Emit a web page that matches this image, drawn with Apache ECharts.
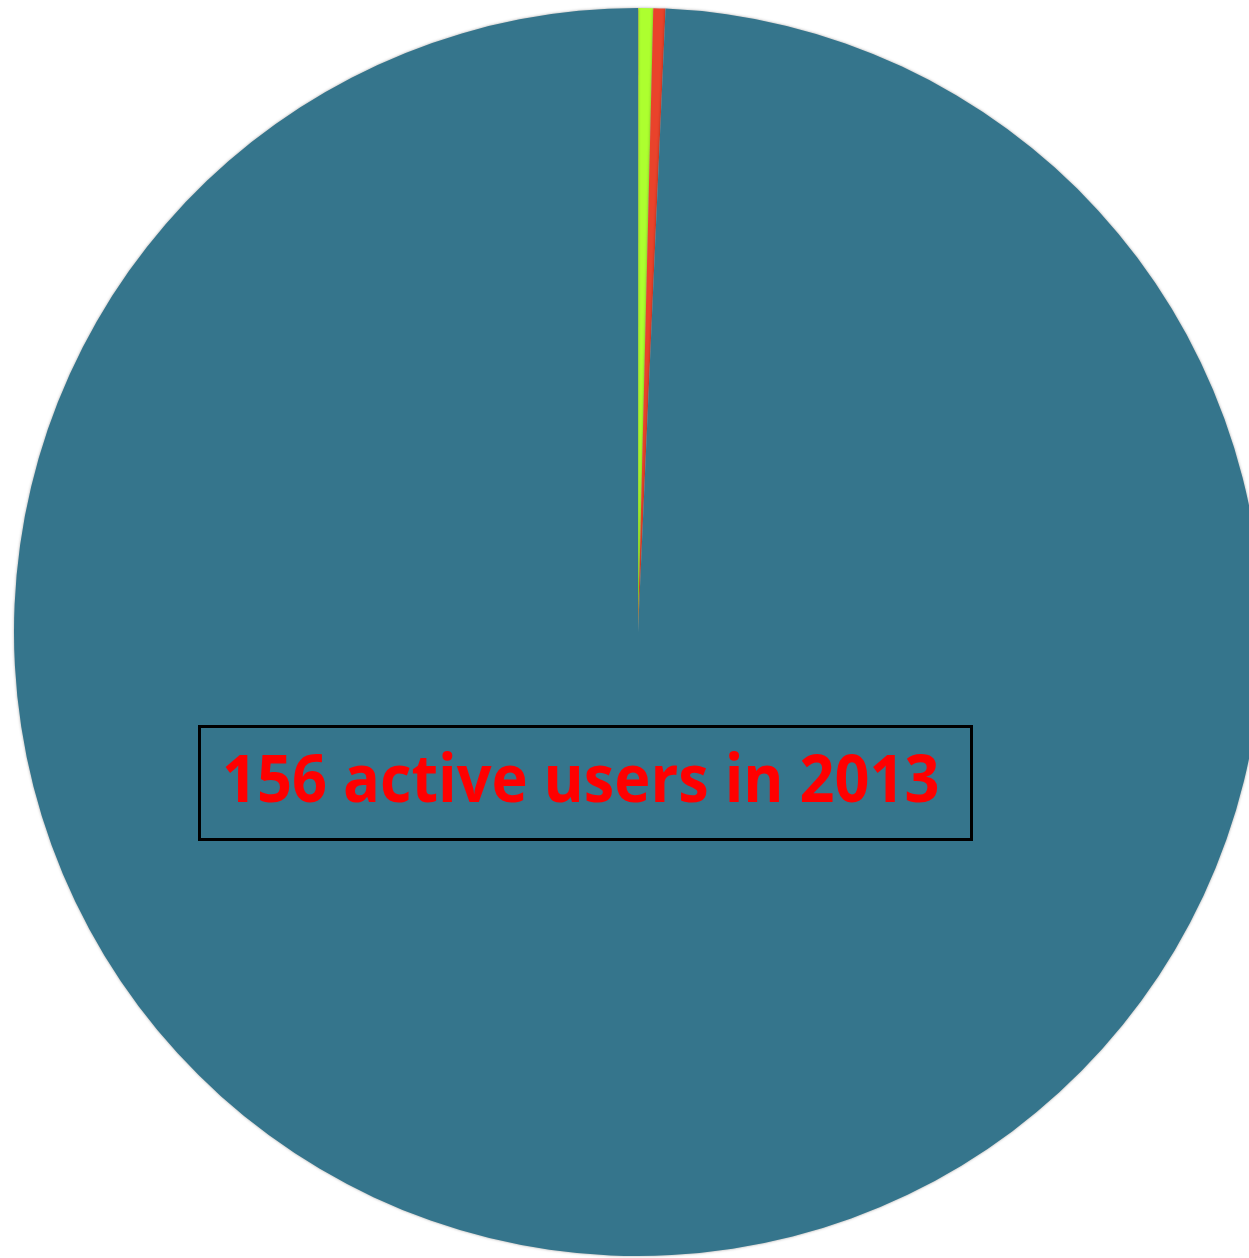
<!DOCTYPE html>
<html>
<head>
<meta charset="utf-8">
<style>html,body{margin:0;padding:0;background:#fff}#c{width:1249px;height:1258px}</style>
<script src="https://cdn.jsdelivr.net/npm/echarts@6/dist/echarts.min.js"></script>
</head>
<body>
<div id="c"></div>
<script>
const categories = ["Other", "Active A", "Active B", "Inactive"];
const values = [3, 97, 80, 25400];
const colors = ["#F0A030", "#ADFF2F", "#E9432B", "#35758C"];
const annotation = "156 active users in 2013";

const chart = echarts.init(document.getElementById('c'));
chart.setOption({
  animation: false,
  series: [{
    type: 'pie',
    center: [638, 632],
    radius: [0, 624],
    startAngle: 90,
    clockwise: true,
    label: { show: false },
    labelLine: { show: false },
    emphasis: { disabled: true },
    itemStyle: { borderWidth: 0, shadowBlur: 3, shadowColor: 'rgba(0,0,0,0.35)' },
    data: categories.map((n, i) => ({ name: n, value: values[i], itemStyle: { color: colors[i] } }))
  }],
  graphic: [{
    type: 'rect',
    z: 100,
    shape: { x: 199.5, y: 726.5, width: 772, height: 113 },
    style: { fill: 'none', stroke: '#000', lineWidth: 3 }
  }, {
    type: 'text',
    z: 101,
    x: 222, y: 783,
    scaleX: 0.914,
    style: {
      text: annotation,
      fill: '#FF0000',
      font: 'bold 67px "Open Sans", sans-serif',
      verticalAlign: 'middle'
    }
  }]
});
</script>
</body>
</html>
